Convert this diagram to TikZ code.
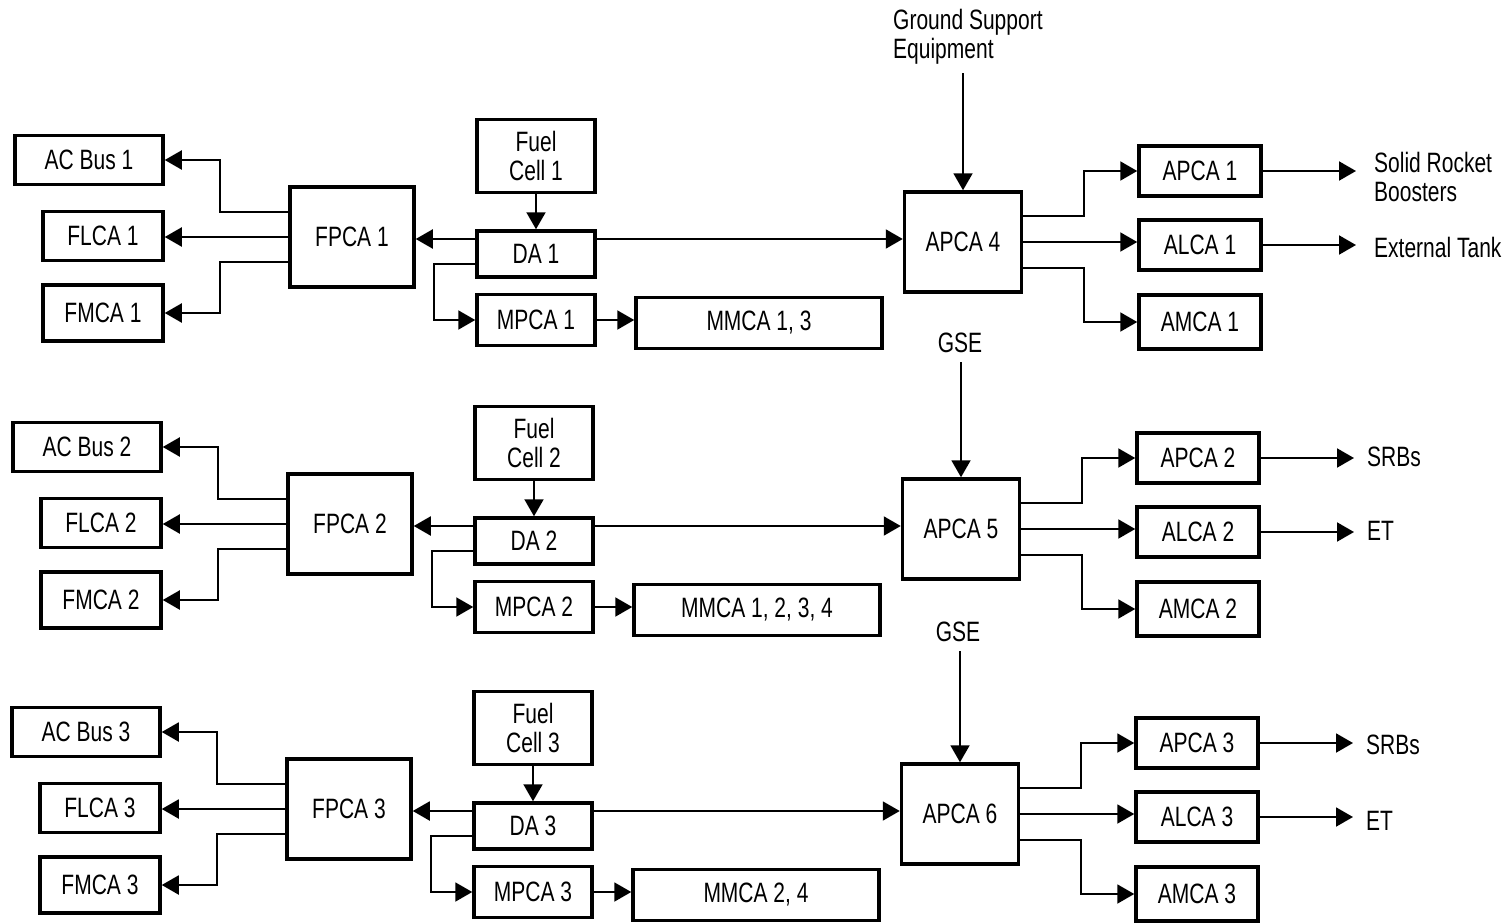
\documentclass[tikz,border=0pt]{standalone}
\usepackage{fontspec}
\setmainfont{Liberation Sans}[FakeStretch=0.75]
\usetikzlibrary{arrows.meta}
\begin{document}
\begin{tikzpicture}[x=1pt,y=-1pt,
  box/.style={draw, line width=3.5pt, inner sep=0pt, align=center, font=\fontsize{28}{29}\selectfont},
  conn/.style={line width=2pt, -{Triangle[length=17pt,width=19pt]}},
  lbl/.style={inner sep=0pt, align=left, font=\fontsize{28}{29}\selectfont}]
\useasboundingbox (0,0) rectangle (1511,923);
\foreach \r/\dx/\dy/\ap/\mm in {1/0/0/4/{MMCA 1, 3}, 2/-2/287/5/{MMCA 1, 2, 3, 4}, 3/-3/572/6/{MMCA 2, 4}} {
 \begin{scope}[shift={(\dx,\dy)}]
  \node[box, minimum width=148pt, minimum height=49pt] (acb\r) at (89,160) {AC Bus \r};
  \node[box, minimum width=120pt, minimum height=49pt] (flca\r) at (103,236) {FLCA \r};
  \node[box, minimum width=120pt, minimum height=56pt] (fmca\r) at (103,313) {FMCA \r};
  \node[box, minimum width=124pt, minimum height=100pt] (fpca\r) at (352,237) {FPCA \r};
  \node[box, minimum width=118pt, minimum height=73pt] (fc\r) at (536,156) {Fuel\\Cell \r};
  \node[box, minimum width=118pt, minimum height=46pt] (da\r) at (536,254) {DA \r};
  \node[box, minimum width=118pt, minimum height=51pt] (mpca\r) at (536,320) {MPCA \r};
  \node[box, minimum width=246pt, minimum height=51pt] (mmca\r) at (759,323) {\mm};
  \node[box, minimum width=117pt, minimum height=100pt] (apcab\r) at (963,242) {APCA \ap};
  \node[box, minimum width=122pt, minimum height=50pt] (apca\r) at (1200,171) {APCA \r};
  \node[box, minimum width=122pt, minimum height=50pt] (alca\r) at (1200,245) {ALCA \r};
  \node[box, minimum width=122pt, minimum height=54pt] (amca\r) at (1200,322) {AMCA \r};
  \draw[conn] (fc\r.south) -- (da\r.north);
  \coordinate (daw\r) at ([yshift=15pt]da\r.west);
  \coordinate (dae\r) at ([yshift=15pt]da\r.east);
  \draw[conn] (daw\r) -- (daw\r -| fpca\r.east);
  \draw[conn] (dae\r) -- (dae\r -| apcab\r.west);
  \draw[conn] ([yshift=-10pt]da\r.west) -- ++(-41,0) |- (mpca\r.west);
  \draw[conn] (mpca\r.east) -- (mpca\r.east -| mmca\r.west);
  \draw[conn] ([yshift=25pt]fpca\r.west) -- ++(-68,0) |- (acb\r.east);
  \draw[conn] (fpca\r.west) -- (fpca\r.west -| flca\r.east);
  \draw[conn] ([yshift=-25pt]fpca\r.west) -- ++(-68,0) |- (fmca\r.east);
  \draw[conn] ([yshift=26pt]apcab\r.east) -- ++(61,0) |- (apca\r.west);
  \draw[conn] (apcab\r.east) -- (apcab\r.east -| alca\r.west);
  \draw[conn] ([yshift=-26pt]apcab\r.east) -- ++(61,0) |- (amca\r.west);
 \end{scope}
}
% right-hand labels
\node[lbl, anchor=north west] (srb1) at (1374,152) {Solid Rocket\\Boosters};
\node[lbl, anchor=west] (et1) at (1374,247) {External Tank};
\node[lbl, anchor=west] (srb2) at (1367,457) {SRBs};
\node[lbl, anchor=west] (et2) at (1367,531) {ET};
\node[lbl, anchor=west] (srb3) at (1366,745) {SRBs};
\node[lbl, anchor=west] (et3) at (1366,821) {ET};
\draw[conn, shorten >=18pt] (apca1.east) -- (apca1.east -| srb1.west);
\draw[conn, shorten >=18pt] (alca1.east) -- (alca1.east -| et1.west);
\draw[conn, shorten >=13pt] (apca2.east) -- (apca2.east -| srb2.west);
\draw[conn, shorten >=13pt] (alca2.east) -- (alca2.east -| et2.west);
\draw[conn, shorten >=13pt] (apca3.east) -- (apca3.east -| srb3.west);
\draw[conn, shorten >=13pt] (alca3.east) -- (alca3.east -| et3.west);
% ground support
\node[lbl, anchor=north west] (gse1) at (893,9) {Ground Support\\Equipment};
\node[lbl] (gse2) at (960,343) {GSE};
\node[lbl] (gse3) at (958,632) {GSE};
\draw[conn, shorten <=9pt] (apcab1.north |- gse1.south) -- (apcab1.north);
\draw[conn, shorten <=9pt] (apcab2.north |- gse2.south) -- (apcab2.north);
\draw[conn, shorten <=9pt] (apcab3.north |- gse3.south) -- (apcab3.north);
\end{tikzpicture}
\end{document}
